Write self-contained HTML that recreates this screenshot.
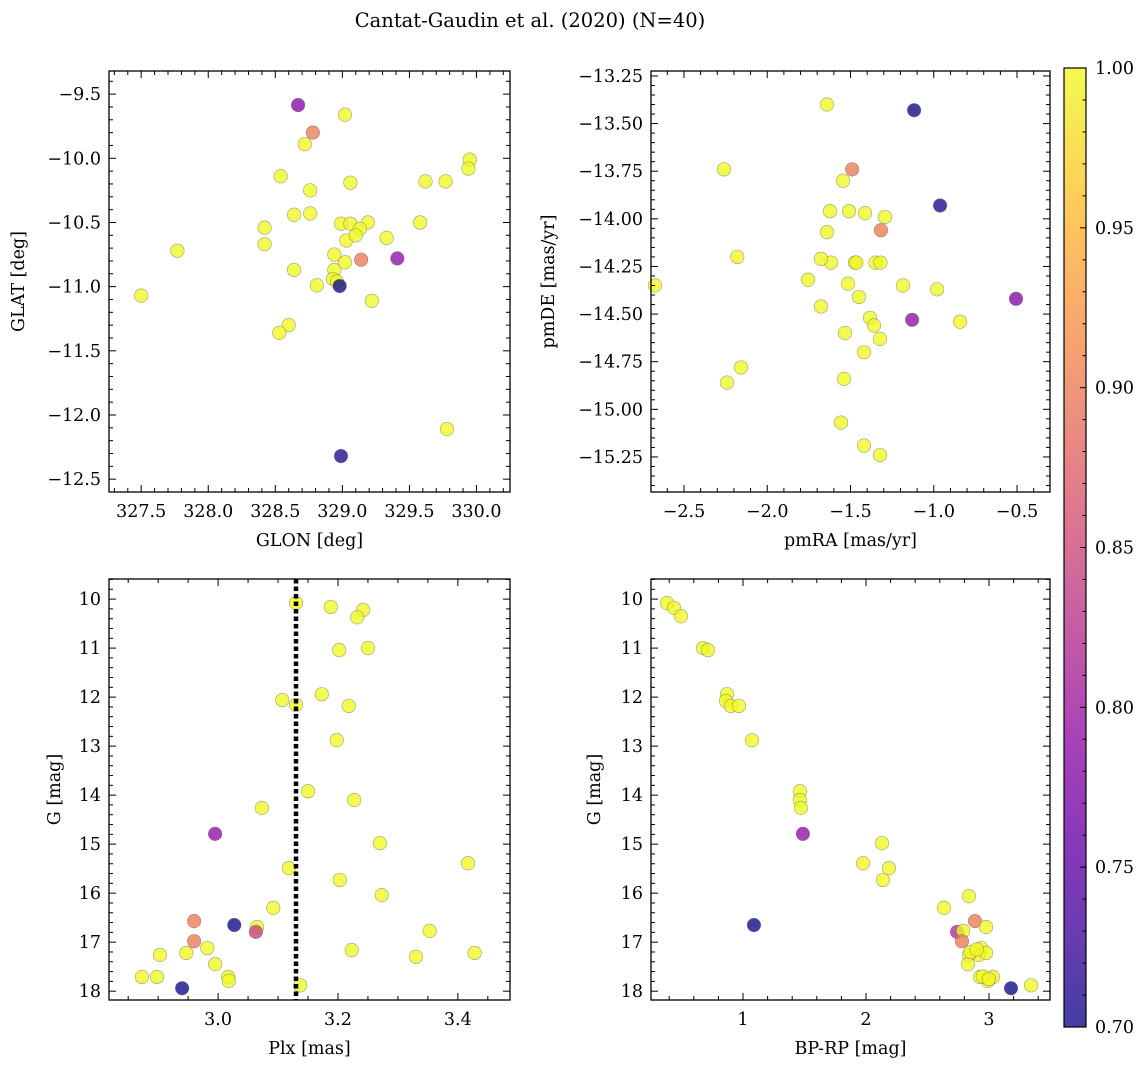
<!DOCTYPE html>
<html><head><meta charset="utf-8">
<style>
body{margin:0;background:#fff;}
svg{display:block;font-family:"DejaVu Serif","Liberation Serif",serif;}
</style></head>
<body>
<svg id="fig" width="1148" height="1067" viewBox="0 0 1148 1067" xmlns="http://www.w3.org/2000/svg">
<text x="530" y="27" text-anchor="middle" font-size="19.5">Cantat-Gaudin et al. (2020) (N=40)</text>
</svg>
<script>
// ---- Data ----
const glon = [328.67,328.78,329.02,328.72,329.95,329.94,328.54,329.62,329.77,329.06,328.76,328.64,328.76,328.42,328.99,329.06,329.19,329.13,329.03,329.58,329.33,328.42,327.77,328.94,329.14,329.41,328.94,328.64,328.93,328.96,328.81,328.98,327.50,329.22,328.60,328.53,329.78,328.99,329.02,329.10];
const glat = [-9.585,-9.80,-9.66,-9.89,-10.01,-10.08,-10.14,-10.18,-10.18,-10.19,-10.25,-10.44,-10.43,-10.54,-10.51,-10.51,-10.50,-10.55,-10.64,-10.50,-10.62,-10.67,-10.72,-10.75,-10.79,-10.78,-10.87,-10.87,-10.94,-10.96,-10.99,-10.995,-11.07,-11.11,-11.30,-11.36,-12.11,-12.32,-10.81,-10.60];
const probA = [0.78,0.90,1,1,1,1,1,1,1,1,1,1,1,1,1,1,1,1,1,1,1,1,1,1,0.90,0.79,1,1,1,1,1,0.70,1,1,1,1,1,0.71,1,1];

const pmra = [-1.641,-1.118,-2.26,-1.49,-1.545,-0.962,-1.623,-1.509,-1.413,-1.293,-1.317,-1.641,-1.473,-1.465,-1.617,-1.677,-1.35,-1.32,-2.18,-1.755,-2.674,-1.515,-1.185,-0.98,-1.449,-0.506,-1.677,-1.383,-1.13,-0.842,-1.359,-1.533,-1.323,-1.419,-2.158,-2.242,-1.539,-1.557,-1.419,-1.323];
const pmde = [-13.40,-13.43,-13.74,-13.74,-13.80,-13.93,-13.96,-13.96,-13.97,-13.99,-14.06,-14.07,-14.23,-14.23,-14.23,-14.21,-14.23,-14.23,-14.20,-14.32,-14.35,-14.34,-14.35,-14.37,-14.41,-14.42,-14.46,-14.52,-14.53,-14.54,-14.56,-14.60,-14.63,-14.70,-14.78,-14.86,-14.84,-15.07,-15.19,-15.24];
const probB = [1,0.70,1,0.90,1,0.71,1,1,1,1,0.90,1,1,1,1,1,1,1,1,1,1,1,1,1,1,0.78,1,1,0.79,1,1,1,1,1,1,1,1,1,1,1];

const plx = [3.130,3.188,3.242,3.232,3.250,3.202,3.107,3.130,3.173,3.218,3.198,3.150,3.227,3.073,2.995,3.270,3.118,3.417,3.203,3.273,3.092,2.960,3.027,3.065,3.063,3.353,2.960,2.982,2.947,2.903,3.223,3.428,3.330,2.995,3.017,3.018,2.873,2.898,2.940,3.137];
const gmagA = [10.08,10.16,10.22,10.37,11.0,11.04,12.06,12.16,11.94,12.18,12.88,13.92,14.1,14.26,14.79,14.98,15.49,15.39,15.73,16.04,16.30,16.57,16.65,16.69,16.79,16.77,16.98,17.12,17.22,17.26,17.16,17.22,17.30,17.45,17.71,17.79,17.71,17.71,17.94,17.88];
const probC = [1,1,1,1,1,1,1,1,1,1,1,1,1,1,0.79,1,1,1,1,1,1,0.90,0.70,1,0.84,1,0.90,1,1,1,1,1,1,1,1,1,1,1,0.70,1];
const plxLine = [3.13];

const bprp = [0.382,0.439,0.496,0.675,0.715,0.87,0.862,0.902,0.967,1.073,1.463,1.463,1.471,1.487,2.13,1.976,2.187,2.138,2.634,2.837,1.089,2.886,2.74,2.79,2.976,2.78,2.935,2.919,2.837,2.976,2.829,2.927,3.033,2.992,3.179,3.342,2.85,2.90,2.95,3.0];
const gmagB = [10.08,10.18,10.35,11.0,11.04,11.94,12.08,12.18,12.18,12.88,13.92,14.1,14.26,14.79,14.98,15.39,15.49,15.73,16.30,16.06,16.65,16.57,16.79,16.77,16.69,16.98,17.12,17.26,17.26,17.22,17.45,17.71,17.71,17.79,17.94,17.88,17.20,17.15,17.70,17.75];
const probD = [1,1,1,1,1,1,1,1,1,1,1,1,1,0.79,1,1,1,1,1,1,0.70,0.90,0.82,1,1,0.90,1,1,1,1,1,1,1,1,0.70,1,1,1,1,1];

const cbTicks = [0.70,0.75,0.80,0.85,0.90,0.95,1.00];

// ---- helpers ----
const NS="http://www.w3.org/2000/svg";
const svg=document.getElementById('fig');
function mk(tag,attrs,parent){const e=document.createElementNS(NS,tag);for(const k in attrs)e.setAttribute(k,attrs[k]);(parent||svg).appendChild(e);return e;}
const stops=[[0,'#0d0887'],[0.1,'#41049d'],[0.2,'#6a00a8'],[0.3,'#8f0da4'],[0.4,'#b12a90'],[0.5,'#cc4778'],[0.6,'#e16462'],[0.7,'#f2844b'],[0.8,'#fca636'],[0.9,'#fcce25'],[1,'#f0f921']];
function hex(h){return [1,3,5].map(i=>parseInt(h.substr(i,2),16));}
function plasma(t){t=Math.max(0,Math.min(1,t));for(let i=1;i<stops.length;i++){if(t<=stops[i][0]){const a=stops[i-1],b=stops[i];const f=(t-a[0])/(b[0]-a[0]);const ca=hex(a[1]),cb=hex(b[1]);return 'rgb('+ca.map((v,j)=>Math.round(v+(cb[j]-v)*f)).join(',')+')';}}return stops[stops.length-1][1];}
const pmin=0.7,pmax=1.0;
function fmt(v,d){return (v<0?'\u2212':'')+Math.abs(v).toFixed(d);}
const FS=17.5;

function panel(o){
  const g=mk('g',{});
  
  
  const sx=v=>o.x0+(v-o.xmin)/(o.xmax-o.xmin)*(o.x1-o.x0);
  const sy=v=>o.invert? o.y0+(v-o.ymin)/(o.ymax-o.ymin)*(o.y1-o.y0) : o.y1-(v-o.ymin)/(o.ymax-o.ymin)*(o.y1-o.y0);
  for(let i=0;i<o.xs.length;i++){
    const c=mk('circle',{cx:sx(o.xs[i]),cy:sy(o.ys[i]),r:6.8,fill:plasma((o.p[i]-pmin)/(pmax-pmin)),'fill-opacity':0.78,stroke:'#666','stroke-opacity':0.6,'stroke-width':0.6},g);
    
    
  }
  if(o.vline){for(const v of o.vline){const l=mk('line',{x1:sx(v),x2:sx(v),y1:o.y0,y2:o.y1,stroke:'#000','stroke-width':4.5,'stroke-dasharray':'4.5 3'},g);
    
    }}
  const fr=mk('rect',{x:o.x0,y:o.y0,width:o.x1-o.x0,height:o.y1-o.y0,fill:'none',stroke:'#000','stroke-width':1.3},g);
  
  
  const eps=1e-9;
  for(let v=Math.ceil(o.xmin/o.xminor-eps)*o.xminor; v<=o.xmax+eps; v+=o.xminor){
    const X=sx(v);const isMaj=Math.abs(v/o.xmajor-Math.round(v/o.xmajor))<1e-6;const L=isMaj?7:4;
    mk('line',{x1:X,x2:X,y1:o.y1,y2:o.y1-L,stroke:'#000','stroke-width':1},g);
    mk('line',{x1:X,x2:X,y1:o.y0,y2:o.y0+L,stroke:'#000','stroke-width':1},g);
    if(isMaj){const t=mk('text',{x:X,y:o.y1+25,'text-anchor':'middle','font-size':FS},g);t.textContent=fmt(Math.round(v/o.xmajor)*o.xmajor,o.xd);
      
      }
  }
  for(let v=Math.ceil(o.ymin/o.yminor-eps)*o.yminor; v<=o.ymax+eps; v+=o.yminor){
    const Y=sy(v);const isMaj=Math.abs(v/o.ymajor-Math.round(v/o.ymajor))<1e-6;const L=isMaj?7:4;
    mk('line',{x1:o.x0,x2:o.x0+L,y1:Y,y2:Y,stroke:'#000','stroke-width':1},g);
    mk('line',{x1:o.x1,x2:o.x1-L,y1:Y,y2:Y,stroke:'#000','stroke-width':1},g);
    if(isMaj){const t=mk('text',{x:o.x0-8,y:Y+6,'text-anchor':'end','font-size':FS},g);t.textContent=fmt(Math.round(v/o.ymajor)*o.ymajor,o.yd);
      
      }
  }
  const xl=mk('text',{x:(o.x0+o.x1)/2,y:o.y1+54,'text-anchor':'middle','font-size':FS},g);xl.textContent=o.xlabel;
  
  
  const yx=o.ylx, yy=(o.y0+o.y1)/2;
  const yl=mk('text',{x:yx,y:yy,'text-anchor':'middle','font-size':FS,transform:'rotate(-90 '+yx+' '+yy+')'},g);yl.textContent=o.ylabel;
  
  
}

panel({name:'glon-glat-panel',x0:109,x1:510,y0:71,y1:492,xmin:327.26,xmax:330.25,ymin:-12.6,ymax:-9.32,xmajor:0.5,xminor:0.1,ymajor:0.5,yminor:0.1,xd:1,yd:1,xs:glon,ys:glat,p:probA,xlabel:'GLON [deg]',ylabel:'GLAT [deg]',ylx:24});
panel({name:'proper-motion-panel',x0:651,x1:1050,y0:71,y1:492,xmin:-2.698,xmax:-0.302,ymin:-15.434,ymax:-13.224,xmajor:0.5,xminor:0.1,ymajor:0.25,yminor:0.05,xd:1,yd:2,xs:pmra,ys:pmde,p:probB,xlabel:'pmRA [mas/yr]',ylabel:'pmDE [mas/yr]',ylx:554});
panel({name:'parallax-magnitude-panel',x0:109,x1:510,y0:579,y1:1000,xmin:2.818,xmax:3.487,ymin:9.59,ymax:18.18,invert:true,xmajor:0.2,xminor:0.05,ymajor:1,yminor:0.2,xd:1,yd:0,xs:plx,ys:gmagA,p:probC,vline:plxLine,xlabel:'Plx [mas]',ylabel:'G [mag]',ylx:60});
panel({name:'cmd-panel',x0:651,x1:1050,y0:579,y1:1000,xmin:0.252,xmax:3.496,ymin:9.59,ymax:18.18,invert:true,xmajor:1,xminor:0.2,ymajor:1,yminor:0.2,xd:0,yd:0,xs:bprp,ys:gmagB,p:probD,xlabel:'BP-RP [mag]',ylabel:'G [mag]',ylx:600});

const defs=mk('defs',{});
const lg=mk('linearGradient',{id:'cbg',x1:0,y1:1,x2:0,y2:0},defs);
for(const s of stops){mk('stop',{offset:s[0],'stop-color':s[1],'stop-opacity':0.78},lg);}
const cb=mk('g',{});


const cbx0=1064,cbx1=1086,cby0=68,cby1=1027;
mk('rect',{x:cbx0,y:cby0,width:cbx1-cbx0,height:cby1-cby0,fill:'url(#cbg)',stroke:'#000','stroke-width':1.2},cb);
const cy=v=>cby1-(v-pmin)/(pmax-pmin)*(cby1-cby0);
for(let v=pmin; v<=pmax+1e-9; v+=0.01){const Y=cy(v);const maj=Math.abs(v*20-Math.round(v*20))<1e-6;
  mk('line',{x1:cbx1,x2:cbx1-(maj?6:3.5),y1:Y,y2:Y,stroke:'#000','stroke-width':1},cb);}
for(const t of cbTicks){const tx=mk('text',{x:1095,y:cy(t)+6,'font-size':FS},cb);tx.textContent=t.toFixed(2);
  
  }
</script>
</body></html>
